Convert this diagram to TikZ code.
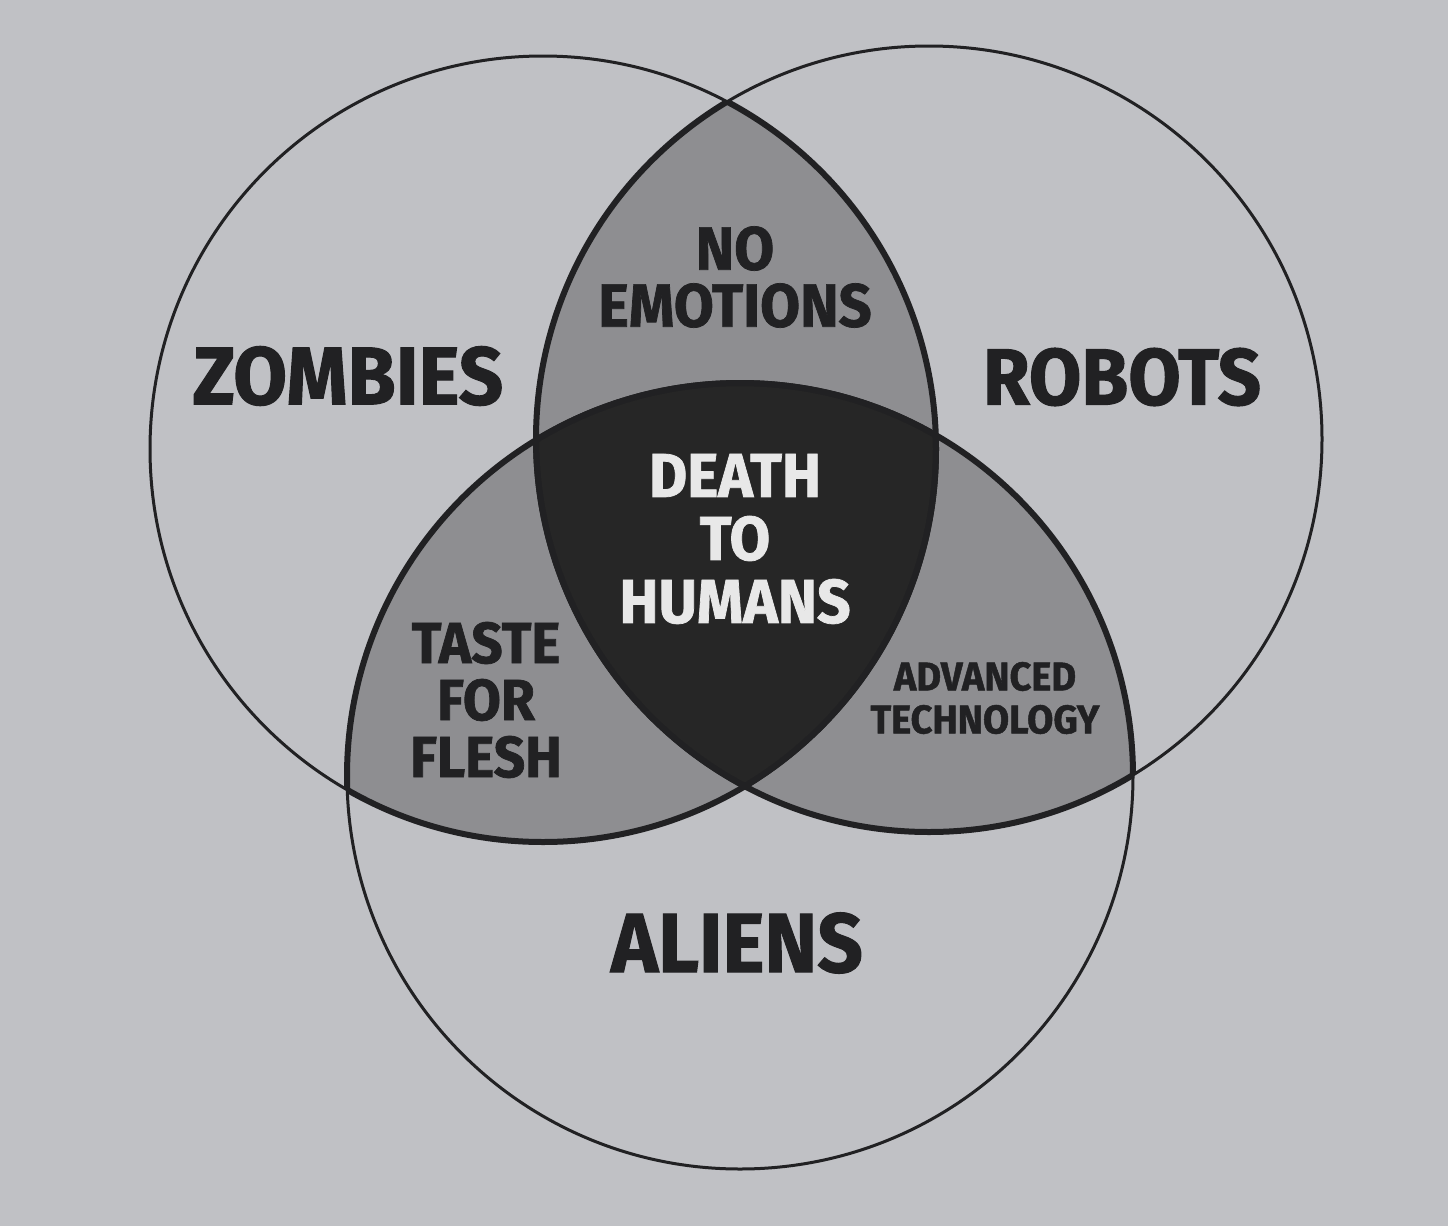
\documentclass[tikz,border=0pt]{standalone}
\usepackage{fontspec}
\setmainfont{Fira Sans}[FakeStretch=0.95,FakeBold=1.2]
\definecolor{bg}{RGB}{192,193,197}
\definecolor{midgray}{RGB}{142,142,145}
\definecolor{darkcore}{RGB}{38,38,38}
\definecolor{ink}{RGB}{33,33,35}
\definecolor{lighttext}{RGB}{232,232,232}
\begin{document}
\begin{tikzpicture}[x=1pt,y=-1pt,
  thinline/.style={draw=ink,line width=3pt},
  thickline/.style={draw=ink,line width=6pt},
  lbl/.style={text=ink,inner sep=0pt,align=center},
  big/.style={font=\bfseries\fontsize{80}{80}\selectfont},
  mid/.style={font=\bfseries\fontsize{58}{57}\selectfont},
  core/.style={font=\bfseries\fontsize{62}{63}\selectfont},
  small/.style={font=\bfseries\fontsize{40}{43}\selectfont}]
\fill[bg] (0,0) rectangle (1448,1226);
\useasboundingbox (0,0) rectangle (1448,1226);
\coordinate (Z) at (543,449);
\coordinate (R) at (929,439);
\coordinate (A) at (740,776);
\def\rr{393pt}
% pairwise intersections
\begin{scope}\clip (Z) circle[radius=\rr]; \fill[midgray] (R) circle[radius=\rr]; \fill[midgray] (A) circle[radius=\rr];\end{scope}
\begin{scope}\clip (R) circle[radius=\rr]; \fill[midgray] (A) circle[radius=\rr];\end{scope}
% triple
\begin{scope}\clip (Z) circle[radius=\rr]; \clip (R) circle[radius=\rr]; \fill[darkcore] (A) circle[radius=\rr];\end{scope}
% outlines
\draw[thinline] (Z) circle[radius=\rr];
\draw[thinline] (R) circle[radius=\rr];
\draw[thinline] (A) circle[radius=\rr];
\begin{scope}\clip (R) circle[radius=\rr]; \draw[thickline] (Z) circle[radius=\rr]; \draw[thickline] (A) circle[radius=\rr];\end{scope}
\begin{scope}\clip (A) circle[radius=\rr]; \draw[thickline] (Z) circle[radius=\rr]; \draw[thickline] (R) circle[radius=\rr];\end{scope}
\begin{scope}\clip (Z) circle[radius=\rr]; \draw[thickline] (R) circle[radius=\rr]; \draw[thickline] (A) circle[radius=\rr];\end{scope}
% labels
\node[lbl,font=\bfseries\fontsize{82}{82}\selectfont] (zombies) at (348,376) {ZOMBIES};
\node[lbl,big] (robots) at (1122,377) {ROBOTS};
\node[lbl,font=\bfseries\fontsize{84}{84}\selectfont] (aliens) at (737,943) {ALIENS};
\node[lbl,font=\bfseries\fontsize{61}{57}\selectfont] (noemo) at (735,277) {NO\\EMOTIONS};
\node[lbl,core,text=lighttext] (death) at (735,539) {DEATH\\TO\\HUMANS};
\node[lbl,mid] (taste) at (486,700) {TASTE\\FOR\\FLESH};
\node[lbl,small] (advtech) at (985,698) {ADVANCED\\TECHNOLOGY};
\end{tikzpicture}
\end{document}
